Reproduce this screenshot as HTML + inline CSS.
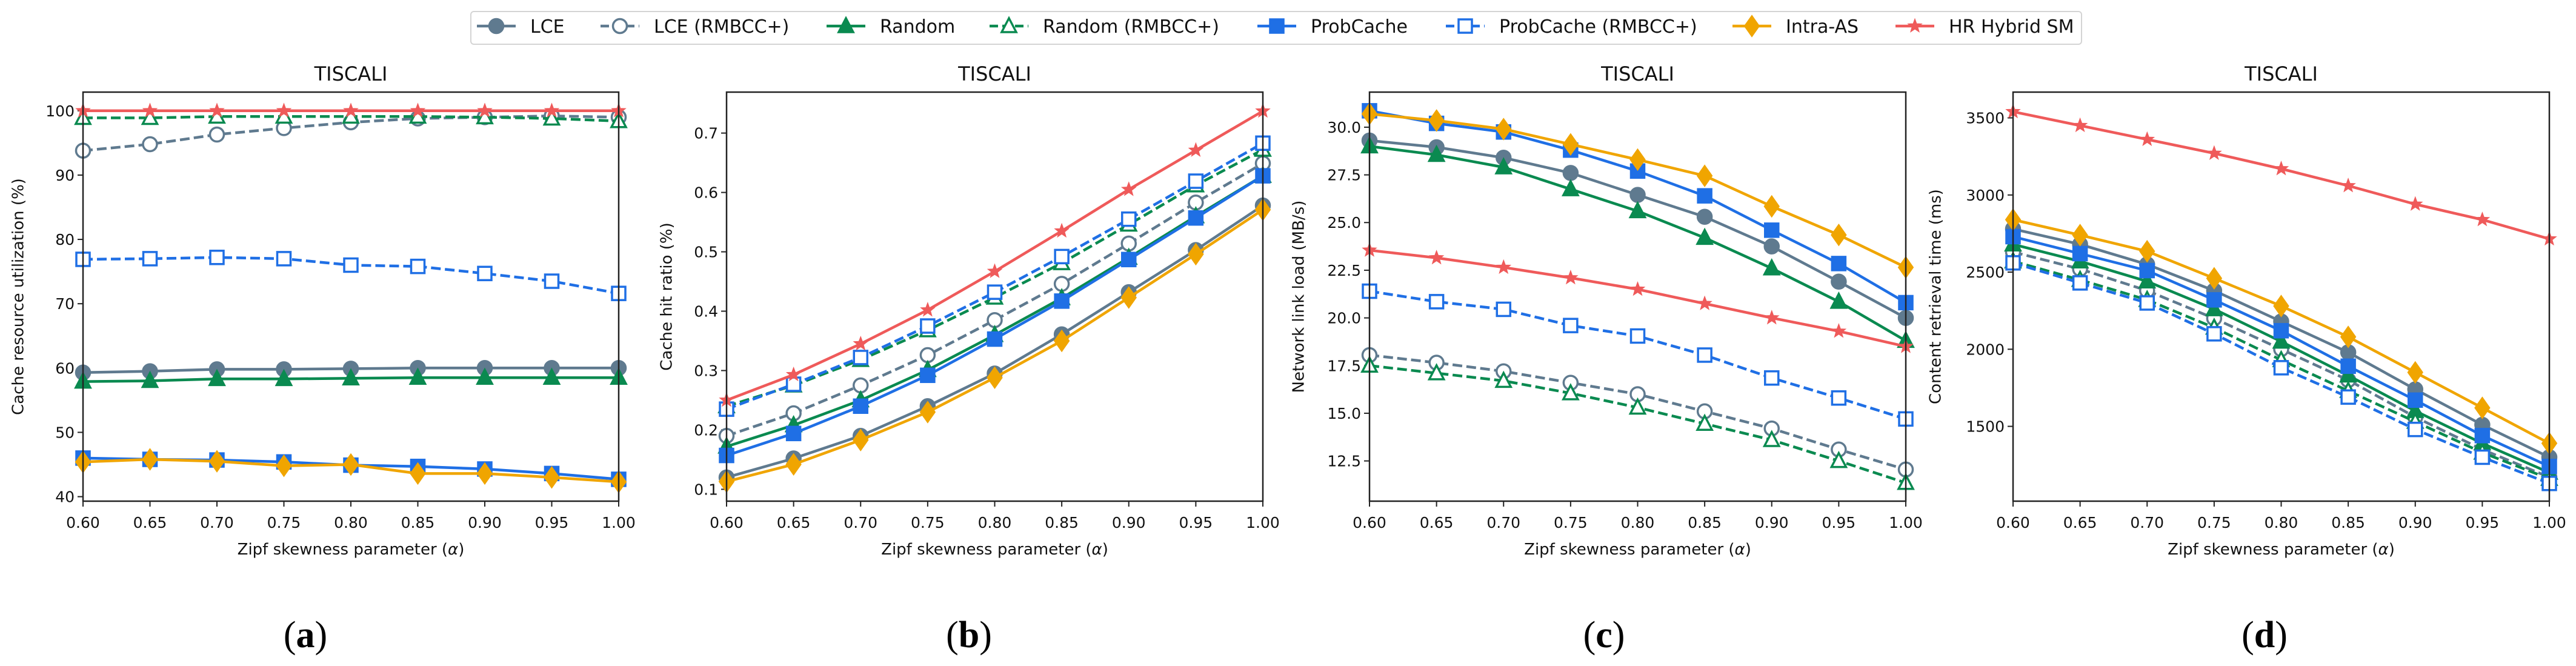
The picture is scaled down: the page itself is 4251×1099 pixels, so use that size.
<!DOCTYPE html>
<html><head><meta charset="utf-8">
<style>
html,body{margin:0;padding:0;background:#fff;}
svg{display:block;font-family:"DejaVu Sans","Liberation Sans",sans-serif;}
</style></head>
<body>
<svg id="fig" width="4251" height="1099" viewBox="0 0 4251 1099" xmlns="http://www.w3.org/2000/svg">
  <rect x="0" y="0" width="4251" height="1099" fill="#fff"/>
  <g id="legend"></g>
  <g id="panels"></g>
</svg>
<script>
// ---- data ----
const xValues = [0.60,0.65,0.70,0.75,0.80,0.85,0.90,0.95,1.00];
const xTickLabels = ["0.60","0.65","0.70","0.75","0.80","0.85","0.90","0.95","1.00"];
const seriesNames = ["LCE","LCE (RMBCC+)","Random","Random (RMBCC+)","ProbCache","ProbCache (RMBCC+)","Intra-AS","HR Hybrid SM"];

// Panel (a) cache resource utilization (%)
const utilLCE       = [59.3,59.5,59.8,59.8,59.9,60.0,60.0,60.0,60.0];
const utilLCER      = [93.8,94.8,96.3,97.3,98.2,98.8,99.0,99.2,99.0];
const utilRandom    = [57.9,58.0,58.3,58.3,58.4,58.5,58.5,58.5,58.5];
const utilRandomR   = [98.9,98.9,99.1,99.1,99.1,99.1,99.0,98.8,98.4];
const utilProb      = [46.0,45.8,45.7,45.4,44.9,44.7,44.3,43.6,42.7];
const utilProbR     = [76.9,77.0,77.2,77.0,76.0,75.8,74.7,73.5,71.6];
const utilIntra     = [45.4,45.8,45.5,44.8,45.0,43.6,43.6,43.0,42.3];
const utilHR        = [100,100,100,100,100,100,100,100,100];
const utilTicks     = [40,50,60,70,80,90,100];

// Panel (b) cache hit ratio
const hitLCE     = [0.120,0.152,0.190,0.240,0.295,0.361,0.432,0.503,0.578];
const hitLCER    = [0.190,0.228,0.275,0.326,0.385,0.446,0.514,0.583,0.649];
const hitRandom  = [0.172,0.208,0.250,0.301,0.360,0.422,0.490,0.560,0.628];
const hitRandomR = [0.240,0.275,0.318,0.368,0.423,0.481,0.546,0.612,0.672];
const hitProb    = [0.157,0.194,0.240,0.292,0.353,0.417,0.487,0.557,0.628];
const hitProbR   = [0.235,0.277,0.322,0.375,0.432,0.492,0.555,0.619,0.683];
const hitIntra   = [0.113,0.142,0.183,0.230,0.288,0.350,0.423,0.496,0.571];
const hitHR      = [0.250,0.293,0.345,0.402,0.467,0.535,0.605,0.671,0.737];
const hitTicks   = [0.1,0.2,0.3,0.4,0.5,0.6,0.7];

// Panel (c) network link load (MB/s)
const loadLCE     = [29.3,28.95,28.4,27.6,26.45,25.3,23.75,21.9,20.0];
const loadLCER    = [18.05,17.65,17.2,16.6,16.0,15.1,14.2,13.1,12.05];
const loadRandom  = [29.0,28.55,27.9,26.75,25.6,24.2,22.6,20.85,18.8];
const loadRandomR = [17.5,17.1,16.7,16.05,15.3,14.45,13.6,12.5,11.35];
const loadProb    = [30.86,30.2,29.75,28.8,27.7,26.4,24.6,22.85,20.8];
const loadProbR   = [21.4,20.85,20.45,19.6,19.05,18.05,16.85,15.8,14.7];
const loadIntra   = [30.7,30.35,29.9,29.1,28.3,27.45,25.85,24.35,22.65];
const loadHR      = [23.55,23.15,22.65,22.1,21.5,20.75,20.0,19.3,18.5];
const loadTicks   = [12.5,15.0,17.5,20.0,22.5,25.0,27.5,30.0];

// Panel (d) content retrieval time (ms)
const timeLCE     = [2780,2680,2550,2380,2180,1980,1740,1510,1300];
const timeLCER    = [2630,2520,2380,2200,2000,1800,1560,1350,1170];
const timeRandom  = [2680,2570,2440,2260,2050,1830,1600,1390,1200];
const timeRandomR = [2570,2450,2320,2140,1930,1730,1530,1330,1160];
const timeProb    = [2730,2620,2510,2320,2120,1890,1670,1440,1240];
const timeProbR   = [2560,2430,2300,2100,1880,1690,1480,1300,1130];
const timeIntra   = [2840,2740,2635,2460,2280,2080,1850,1620,1390];
const timeHR      = [3540,3450,3360,3270,3170,3060,2940,2840,2715];
const timeTicks   = [1500,2000,2500,3000,3500];

// ---- styles ----
const styles = [
  {c:"#5f7a8f", dash:false, m:"circle", fill:true},
  {c:"#5f7a8f", dash:true,  m:"circle", fill:false},
  {c:"#0a8a50", dash:false, m:"tri",    fill:true},
  {c:"#0a8a50", dash:true,  m:"tri",    fill:false},
  {c:"#1f6fe5", dash:false, m:"square", fill:true},
  {c:"#1f6fe5", dash:true,  m:"square", fill:false},
  {c:"#f0a500", dash:false, m:"diamond",fill:true},
  {c:"#ef5a5a", dash:false, m:"star",   fill:true}
];

const NS = "http://www.w3.org/2000/svg";
function mk(tag, attrs, parent){
  const e = document.createElementNS(NS, tag);
  for (const k in attrs) e.setAttribute(k, attrs[k]);
  if (parent) parent.appendChild(e);
  return e;
}

function marker(g, type, x, y, st){
  const fill = st.fill ? st.c : "#fff";
  const sw = 3.5;
  let e;
  if (type==="circle"){
    e = mk("circle",{cx:x,cy:y,r:11.5,fill:fill,stroke:st.c,"stroke-width":sw},g);
  } else if (type==="square"){
    e = mk("rect",{x:x-11,y:y-11,width:22,height:22,fill:fill,stroke:st.c,"stroke-width":sw},g);
  } else if (type==="tri"){
    e = mk("polygon",{points:`${x},${y-13} ${x-12},${y+10} ${x+12},${y+10}`,fill:fill,stroke:st.c,"stroke-width":sw},g);
  } else if (type==="diamond"){
    e = mk("polygon",{points:`${x},${y-17} ${x+12},${y} ${x},${y+17} ${x-12},${y}`,fill:fill,stroke:st.c,"stroke-width":2},g);
  } else {
    let p=[];
    for(let i=0;i<10;i++){
      const r = i%2===0 ? 12 : 5;
      const a = -Math.PI/2 + i*Math.PI/5;
      p.push((x+r*Math.cos(a)).toFixed(1)+","+(y+r*Math.sin(a)).toFixed(1));
    }
    e = mk("polygon",{points:p.join(" "),fill:st.c,stroke:st.c,"stroke-width":1},g);
  }
  return e;
}

const panels = [
  {id:"a", left:137, right:1021, ymin:39.3, ymax:102.9, ticks:utilTicks, fmt:v=>String(v),
   ylabel:"Cache resource utilization (%)", ylx:31, capx:504,
   data:[utilLCE,utilLCER,utilRandom,utilRandomR,utilProb,utilProbR,utilIntra,utilHR]},
  {id:"b", left:1199, right:2084, ymin:0.080, ymax:0.769, ticks:hitTicks, fmt:v=>v.toFixed(1),
   ylabel:"Cache hit ratio (%)", ylx:1101, capx:1599,
   data:[hitLCE,hitLCER,hitRandom,hitRandomR,hitProb,hitProbR,hitIntra,hitHR]},
  {id:"c", left:2260, right:3145, ymin:10.39, ymax:31.84, ticks:loadTicks, fmt:v=>v.toFixed(1),
   ylabel:"Network link load (MB/s)", ylx:2144, capx:2647,
   data:[loadLCE,loadLCER,loadRandom,loadRandomR,loadProb,loadProbR,loadIntra,loadHR]},
  {id:"d", left:3322, right:4207, ymin:1015, ymax:3667, ticks:timeTicks, fmt:v=>String(v),
   ylabel:"Content retrieval time (ms)", ylx:3195, capx:3737,
   data:[timeLCE,timeLCER,timeRandom,timeRandomR,timeProb,timeProbR,timeIntra,timeHR]}
];
const TOP=152, BOT=827;
const root = document.getElementById("panels");

panels.forEach(P=>{
  const g = mk("g",{},root);
  
  
  const xs = v => P.left + (v-0.6)/(0.4)*(P.right-P.left);
  const ys = v => BOT - (v-P.ymin)/(P.ymax-P.ymin)*(BOT-TOP);
  const cx = (P.left+P.right)/2;

  const t = mk("text",{x:cx,y:133,"text-anchor":"middle","font-size":32,fill:"#111"},g);
  t.textContent="TISCALI";
  
  

  const clipId="clip"+P.id;
  const cp = mk("clipPath",{id:clipId},g);
  mk("rect",{x:P.left-16,y:TOP-16,width:P.right-P.left+32,height:BOT-TOP+32},cp);

  const xt = mk("g",{},g);
  
  
  xValues.forEach((v,i)=>{
    const x=xs(v);
    mk("line",{x1:x,y1:BOT,x2:x,y2:BOT+9,stroke:"#222","stroke-width":2},xt);
    const l=mk("text",{x:x,y:871,"text-anchor":"middle","font-size":25,fill:"#111"},xt);
    l.textContent=xTickLabels[i];
    
    
  });
  const xl = mk("text",{x:cx,y:915,"text-anchor":"middle","font-size":26,fill:"#111"},g);
  xl.innerHTML='Zipf skewness parameter (<tspan font-style="italic">α</tspan>)';
  
  

  const yt = mk("g",{},g);
  
  
  P.ticks.forEach(v=>{
    const y=ys(v);
    mk("line",{x1:P.left-9,y1:y,x2:P.left,y2:y,stroke:"#222","stroke-width":2},yt);
    const l=mk("text",{x:P.left-14,y:y+9,"text-anchor":"end","font-size":25,fill:"#111"},yt);
    l.textContent=P.fmt(v);
    
    
  });
  const yl = mk("text",{x:P.ylx,y:(TOP+BOT)/2,"text-anchor":"middle","font-size":26,fill:"#111",
    transform:`rotate(-90 ${P.ylx} ${(TOP+BOT)/2})`,"dominant-baseline":"middle"},g);
  yl.textContent=P.ylabel;
  
  

  const sg = mk("g",{"clip-path":`url(#${clipId})`},g);
  P.data.forEach((arr,si)=>{
    const st=styles[si];
    const s = mk("g",{},sg);
    
    
    const pts = arr.map((v,i)=>xs(xValues[i]).toFixed(1)+","+ys(v).toFixed(1)).join(" ");
    const pl = mk("polyline",{points:pts,fill:"none",stroke:st.c,"stroke-width":4.5,"stroke-linejoin":"round"},s);
    if(st.dash) pl.setAttribute("stroke-dasharray","16 7");
    
    
    arr.forEach((v,i)=>{
      const m = marker(s, st.m, xs(xValues[i]), ys(v), st);
      
      
    });
  });

  const fr = mk("rect",{x:P.left,y:TOP,width:P.right-P.left,height:BOT-TOP,fill:"none",stroke:"#222","stroke-width":2.5},g);
  
  

  const cap = mk("text",{x:P.capx,y:1068,"text-anchor":"middle","font-size":62,"font-family":"Liberation Serif, serif",fill:"#000"},g);
  cap.innerHTML=`(<tspan font-weight="bold">${P.id}</tspan>)`;
  
  
});

const lg = document.getElementById("legend");
mk("rect",{x:777,y:19,width:2658,height:54,rx:5,fill:"#fff",stroke:"#d4d4d4","stroke-width":2},lg);
const handleX=[787,991,1364,1633,2075,2386,2859,3128];
handleX.forEach((hx,i)=>{
  const st=styles[i];
  const e = mk("g",{},lg);
  
  
  const ln = mk("line",{x1:hx,y1:43,x2:hx+64,y2:43,stroke:st.c,"stroke-width":4.5},e);
  if(st.dash) ln.setAttribute("stroke-dasharray","14 7");
  marker(e, st.m, hx+32, 43, st);
  const t = mk("text",{x:hx+88,y:54,"font-size":30,fill:"#111"},e);
  t.textContent=seriesNames[i];
});
</script>
</body></html>
